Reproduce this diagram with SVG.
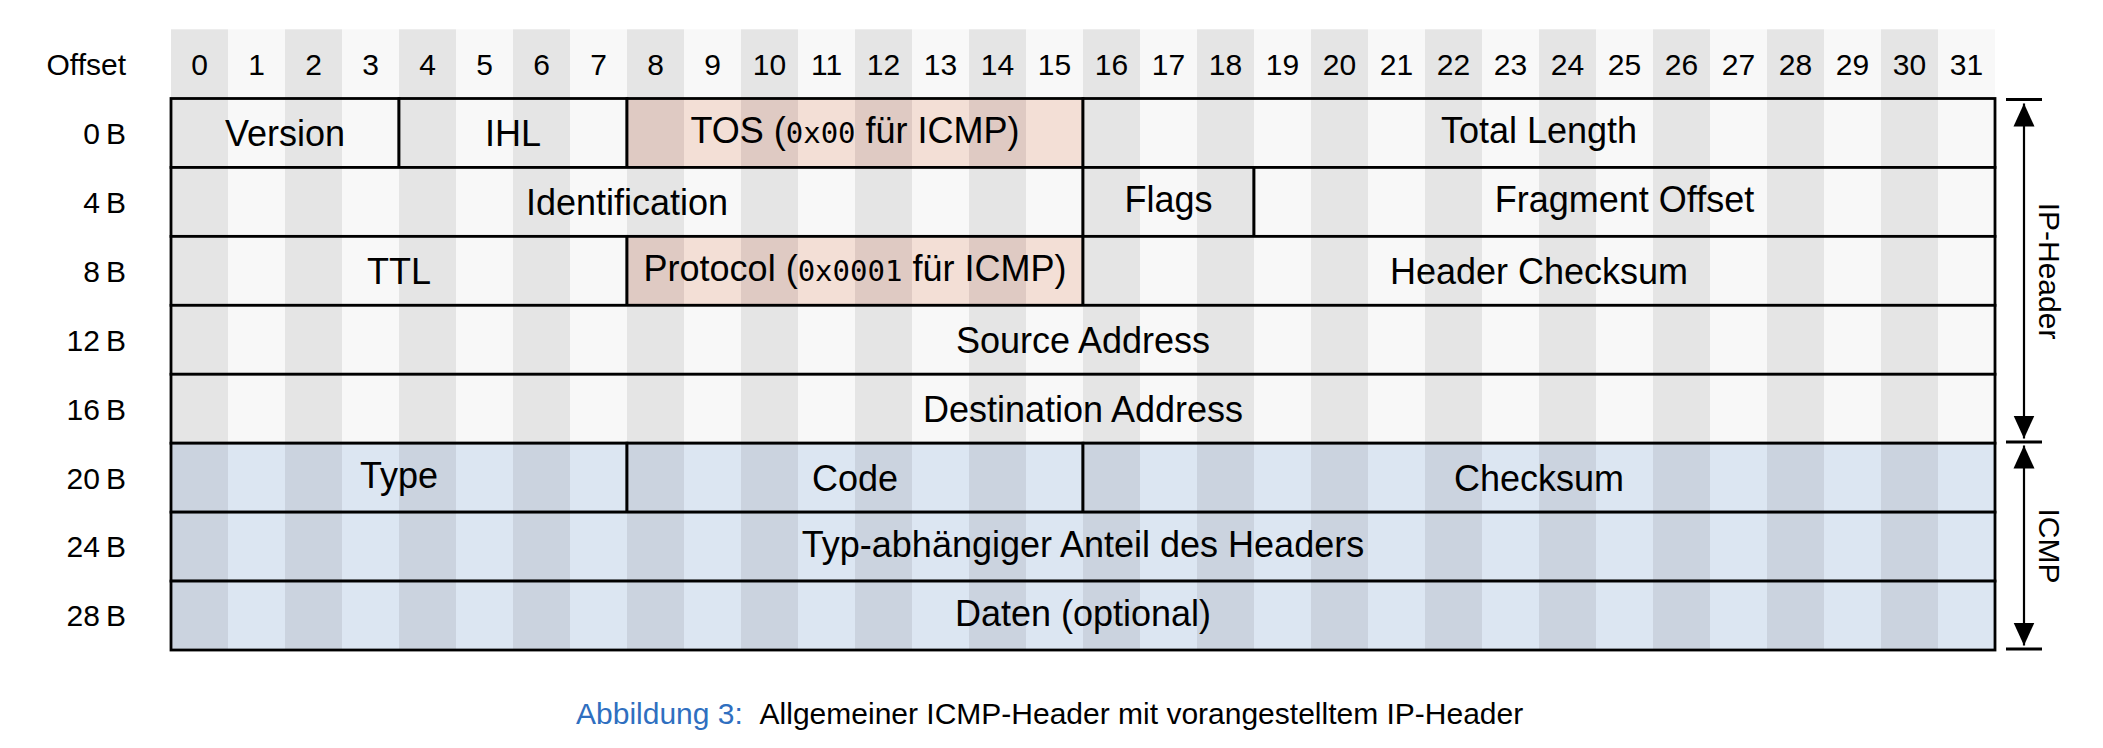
<svg xmlns="http://www.w3.org/2000/svg" width="2103" height="748" viewBox="0 0 2103 748">
<style>
.lbl{font-family:"Liberation Sans",Arial,sans-serif;font-size:30px;fill:#000}
.fld{font-family:"Liberation Sans",Arial,sans-serif;font-size:36px;fill:#000;text-anchor:middle}
.mono{font-family:"DejaVu Sans Mono","Liberation Mono",monospace;font-size:29px}
.cell{stroke:#000;stroke-width:2.8}
.ip{fill:url(#pGray)}
.hl{fill:url(#pRed)}
.ic{fill:url(#pBlue)}
.dim{stroke:#000;stroke-width:2.2;fill:none}
.tick{stroke:#000;stroke-width:2.8}
</style>
<defs>
<pattern id="pGray" patternUnits="userSpaceOnUse" x="171" y="0" width="114" height="748">
<rect x="0" y="0" width="57" height="748" fill="#e5e5e5"/>
<rect x="57" y="0" width="57" height="748" fill="#f8f8f8"/>
</pattern>
<pattern id="pRed" patternUnits="userSpaceOnUse" x="171" y="0" width="114" height="748">
<rect x="0" y="0" width="57" height="748" fill="#dfcac3"/>
<rect x="57" y="0" width="57" height="748" fill="#f3dfd6"/>
</pattern>
<pattern id="pBlue" patternUnits="userSpaceOnUse" x="171" y="0" width="114" height="748">
<rect x="0" y="0" width="57" height="748" fill="#cbd3df"/>
<rect x="57" y="0" width="57" height="748" fill="#dce6f2"/>
</pattern>
<marker id="ah" markerUnits="userSpaceOnUse" markerWidth="24" markerHeight="22" refX="23" refY="10.5" orient="auto-start-reverse" viewBox="0 0 24 21">
<path d="M0,0 L23,10.5 L0,21 Z" fill="#000"/>
</marker>
</defs>

<rect x="0" y="0" width="2103" height="748" fill="#fff"/>

<g id="header-band">
<rect x="171" y="29.3" width="1824" height="69.2" fill="url(#pGray)"/>
<text class="lbl" x="126" y="75" text-anchor="end">Offset</text>
<g text-anchor="middle" class="lbl">
<text class="lbl" x="199.5" y="75" text-anchor="middle">0</text>
<text class="lbl" x="256.5" y="75" text-anchor="middle">1</text>
<text class="lbl" x="313.5" y="75" text-anchor="middle">2</text>
<text class="lbl" x="370.5" y="75" text-anchor="middle">3</text>
<text class="lbl" x="427.5" y="75" text-anchor="middle">4</text>
<text class="lbl" x="484.5" y="75" text-anchor="middle">5</text>
<text class="lbl" x="541.5" y="75" text-anchor="middle">6</text>
<text class="lbl" x="598.5" y="75" text-anchor="middle">7</text>
<text class="lbl" x="655.5" y="75" text-anchor="middle">8</text>
<text class="lbl" x="712.5" y="75" text-anchor="middle">9</text>
<text class="lbl" x="769.5" y="75" text-anchor="middle">10</text>
<text class="lbl" x="826.5" y="75" text-anchor="middle">11</text>
<text class="lbl" x="883.5" y="75" text-anchor="middle">12</text>
<text class="lbl" x="940.5" y="75" text-anchor="middle">13</text>
<text class="lbl" x="997.5" y="75" text-anchor="middle">14</text>
<text class="lbl" x="1054.5" y="75" text-anchor="middle">15</text>
<text class="lbl" x="1111.5" y="75" text-anchor="middle">16</text>
<text class="lbl" x="1168.5" y="75" text-anchor="middle">17</text>
<text class="lbl" x="1225.5" y="75" text-anchor="middle">18</text>
<text class="lbl" x="1282.5" y="75" text-anchor="middle">19</text>
<text class="lbl" x="1339.5" y="75" text-anchor="middle">20</text>
<text class="lbl" x="1396.5" y="75" text-anchor="middle">21</text>
<text class="lbl" x="1453.5" y="75" text-anchor="middle">22</text>
<text class="lbl" x="1510.5" y="75" text-anchor="middle">23</text>
<text class="lbl" x="1567.5" y="75" text-anchor="middle">24</text>
<text class="lbl" x="1624.5" y="75" text-anchor="middle">25</text>
<text class="lbl" x="1681.5" y="75" text-anchor="middle">26</text>
<text class="lbl" x="1738.5" y="75" text-anchor="middle">27</text>
<text class="lbl" x="1795.5" y="75" text-anchor="middle">28</text>
<text class="lbl" x="1852.5" y="75" text-anchor="middle">29</text>
<text class="lbl" x="1909.5" y="75" text-anchor="middle">30</text>
<text class="lbl" x="1966.5" y="75" text-anchor="middle">31</text>
</g>
</g>

<g id="row-labels" class="lbl" text-anchor="end">
<text class="lbl" x="126" y="143.8" text-anchor="end">0&#8201;B</text>
<text class="lbl" x="126" y="212.7" text-anchor="end">4&#8201;B</text>
<text class="lbl" x="126" y="281.6" text-anchor="end">8&#8201;B</text>
<text class="lbl" x="126" y="350.6" text-anchor="end">12&#8201;B</text>
<text class="lbl" x="126" y="419.5" text-anchor="end">16&#8201;B</text>
<text class="lbl" x="126" y="488.5" text-anchor="end">20&#8201;B</text>
<text class="lbl" x="126" y="557.4" text-anchor="end">24&#8201;B</text>
<text class="lbl" x="126" y="626.3" text-anchor="end">28&#8201;B</text>
</g>

<g id="version"><rect class="cell ip" x="171" y="98.5" width="228" height="68.94"/><text class="fld" x="285" y="146">Version</text></g>
<g id="ihl"><rect class="cell ip" x="399" y="98.5" width="228" height="68.94"/><text class="fld" x="513" y="146">IHL</text></g>
<g id="tos"><rect class="cell hl" x="627" y="98.5" width="456" height="68.94"/><text class="fld" x="855" y="143">TOS (<tspan class="mono">0x00</tspan> für ICMP)</text></g>
<g id="total-length"><rect class="cell ip" x="1083" y="98.5" width="912" height="68.94"/><text class="fld" x="1539" y="143">Total Length</text></g>

<g id="identification"><rect class="cell ip" x="171" y="167.44" width="912" height="68.94"/><text class="fld" x="627" y="214.9">Identification</text></g>
<g id="flags"><rect class="cell ip" x="1083" y="167.44" width="171" height="68.94"/><text class="fld" x="1168.5" y="211.9">Flags</text></g>
<g id="fragment-offset"><rect class="cell ip" x="1254" y="167.44" width="741" height="68.94"/><text class="fld" x="1624.5" y="211.9">Fragment Offset</text></g>

<g id="ttl"><rect class="cell ip" x="171" y="236.38" width="456" height="68.94"/><text class="fld" x="399" y="283.85">TTL</text></g>
<g id="protocol"><rect class="cell hl" x="627" y="236.38" width="456" height="68.94"/><text class="fld" x="855" y="280.85">Protocol (<tspan class="mono">0x0001</tspan> für ICMP)</text></g>
<g id="header-checksum"><rect class="cell ip" x="1083" y="236.38" width="912" height="68.94"/><text class="fld" x="1539" y="283.85">Header Checksum</text></g>

<g id="source-address"><rect class="cell ip" x="171" y="305.32" width="1824" height="68.94"/><text class="fld" x="1083" y="352.8">Source Address</text></g>
<g id="destination-address"><rect class="cell ip" x="171" y="374.26" width="1824" height="68.94"/><text class="fld" x="1083" y="421.7">Destination Address</text></g>

<g id="type"><rect class="cell ic" x="171" y="443.2" width="456" height="68.94"/><text class="fld" x="399" y="487.7">Type</text></g>
<g id="code"><rect class="cell ic" x="627" y="443.2" width="456" height="68.94"/><text class="fld" x="855" y="490.7">Code</text></g>
<g id="checksum"><rect class="cell ic" x="1083" y="443.2" width="912" height="68.94"/><text class="fld" x="1539" y="490.7">Checksum</text></g>

<g id="typ-abhaengig"><rect class="cell ic" x="171" y="512.14" width="1824" height="68.94"/><text class="fld" x="1083" y="556.6">Typ-abhängiger Anteil des Headers</text></g>
<g id="daten"><rect class="cell ic" x="171" y="581.08" width="1824" height="68.94"/><text class="fld" x="1083" y="625.5">Daten (optional)</text></g>

<g id="connectors">
<line class="tick" x1="2006" y1="99.5" x2="2042" y2="99.5"/>
<line class="tick" x1="2006" y1="442" x2="2042" y2="442"/>
<line class="tick" x1="2006" y1="649" x2="2042" y2="649"/>
<line class="dim" x1="2024" y1="103.5" x2="2024" y2="438.5" marker-start="url(#ah)" marker-end="url(#ah)"/>
<line class="dim" x1="2024" y1="445.5" x2="2024" y2="645.5" marker-start="url(#ah)" marker-end="url(#ah)"/>
</g>

<g id="ip-header-label"><text class="lbl" text-anchor="middle" transform="translate(2038.5,271) rotate(90)">IP-Header</text></g>
<g id="icmp-label"><text class="lbl" text-anchor="middle" transform="translate(2038.5,546) rotate(90)">ICMP</text></g>

<g id="caption">
<text class="lbl" x="576" y="724" fill="#2f6fc0" style="fill:#2f6fc0">Abbildung 3:</text>
<text class="lbl" x="759.6" y="724">Allgemeiner ICMP-Header mit vorangestelltem IP-Header</text>
</g>
</svg>
